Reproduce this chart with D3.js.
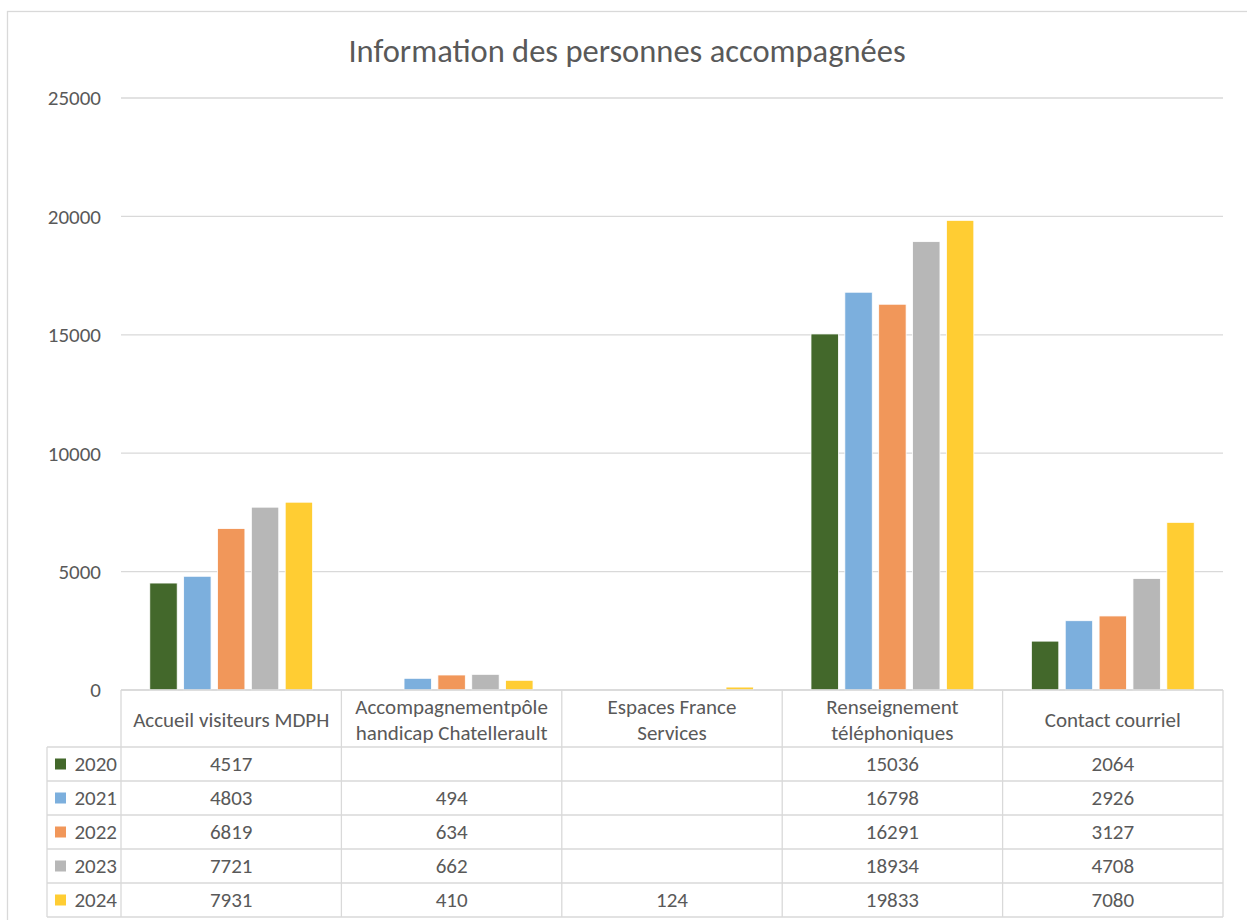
<!DOCTYPE html>
<html>
<head>
<meta charset="utf-8">
<script src="https://cdn.jsdelivr.net/npm/d3@7"></script>
<style>
  body { margin: 0; background: #fff; }
  svg { display: block; font-family: Carlito, "Liberation Sans", sans-serif; }
</style>
</head>
<body>
<div id="chart-container"></div>
<script>
const categories = ["Accueil visiteurs MDPH", "Accompagnementpôle handicap Chatellerault", "Espaces France Services", "Renseignement téléphoniques", "Contact courriel"];
const headerLines = [["Accueil visiteurs MDPH"], ["Accompagnementpôle", "handicap Chatellerault"], ["Espaces France", "Services"], ["Renseignement", "téléphoniques"], ["Contact courriel"]];
const years = ["2020", "2021", "2022", "2023", "2024"];
const values2020 = [4517, null, null, 15036, 2064];
const values2021 = [4803, 494, null, 16798, 2926];
const values2022 = [6819, 634, null, 16291, 3127];
const values2023 = [7721, 662, null, 18934, 4708];
const values2024 = [7931, 410, 124, 19833, 7080];
const yTicks = [0, 5000, 10000, 15000, 20000, 25000];
const colors = ["#43682b", "#7cafdd", "#f1975a", "#b7b7b7", "#ffcd33"];

const series = [values2020, values2021, values2022, values2023, values2024].map((vals, i) => ({
    year: years[i],
    color: colors[i],
    values: vals
}));

const W = 1247, H = 920;
const plot = { left: 121, right: 1223, top: 98, bottom: 690 };
const tableTop = 690, headerH = 57, rowH = 34, legendLeft = 47;
const gridColor = "#d9d9d9", textColor = "#595959";
const fs = "21px";

const svg = d3.select("#chart-container")
    .append("svg")
    .attr("width", W)
    .attr("height", H);

// outer frame
svg.append("rect")
    .attr("x", 7.5).attr("y", 11.5)
    .attr("width", 1260).attr("height", 940)
    .attr("fill", "#fff")
    .attr("stroke", gridColor)
    .attr("stroke-width", 1.3);

svg.append("text")
    .attr("x", 627).attr("y", 62)
    .attr("text-anchor", "middle")
    .attr("fill", textColor)
    .style("font-size", "32.5px")
    .text("Information des personnes accompagnées");

const x0 = d3.scaleBand()
    .domain(categories)
    .range([plot.left, plot.right])
    .padding(0);

const x1 = d3.scaleBand()
    .domain(years)
    .range([0, x0.bandwidth()])
    .paddingInner(0.19)
    .paddingOuter(0.85);

const y = d3.scaleLinear()
    .domain([0, 25000])
    .range([plot.bottom, plot.top]);

// gridlines + y labels
svg.append("g")
    .selectAll("line")
    .data(yTicks)
    .enter().append("line")
    .attr("x1", plot.left).attr("x2", plot.right)
    .attr("y1", d => y(d)).attr("y2", d => y(d))
    .attr("stroke", gridColor)
    .attr("stroke-width", 1.3);

svg.append("g")
    .selectAll("text")
    .data(yTicks)
    .enter().append("text")
    .attr("x", 101)
    .attr("y", d => y(d))
    .attr("dy", "0.35em")
    .attr("text-anchor", "end")
    .attr("fill", textColor)
    .style("font-size", fs)
    .text(d => d);

// bars
const groups = svg.append("g")
    .selectAll("g")
    .data(series)
    .enter().append("g")
    .attr("fill", d => d.color);

groups.selectAll("rect")
    .data(d => d.values.map((v, i) => ({ cat: categories[i], year: d.year, v })).filter(e => e.v != null))
    .enter().append("rect")
    .attr("x", d => x0(d.cat) + x1(d.year))
    .attr("width", x1.bandwidth())
    .attr("y", d => y(d.v))
    .attr("height", d => y(0) - y(d.v))
    .attr("stroke", "#fff")
    .attr("stroke-width", 0.8);

// data table
const table = svg.append("g");
const bodyTop = tableTop + headerH;
const tableBottom = bodyTop + rowH * years.length;
const line = (xa, ya, xb, yb) => table.append("line")
    .attr("x1", xa).attr("y1", ya).attr("x2", xb).attr("y2", yb)
    .attr("stroke", gridColor).attr("stroke-width", 1.3);

line(plot.left, tableTop, plot.right, tableTop);
years.forEach((yr, i) => line(legendLeft, bodyTop + i * rowH, plot.right, bodyTop + i * rowH));
line(legendLeft, tableBottom, plot.right, tableBottom);
line(legendLeft, bodyTop, legendLeft, tableBottom);
categories.forEach(c => line(x0(c), tableTop, x0(c), tableBottom));
line(plot.right, tableTop, plot.right, tableBottom);

// header labels
categories.forEach((c, i) => {
    const lines = headerLines[i];
    const cy = tableTop + headerH / 2 + 1;
    const lh = 26;
    lines.forEach((t, j) => {
        table.append("text")
            .attr("x", x0(c) + x0.bandwidth() / 2)
            .attr("y", cy + (j - (lines.length - 1) / 2) * lh)
            .attr("dy", "0.35em")
            .attr("text-anchor", "middle")
            .attr("fill", textColor)
            .style("font-size", fs)
            .text(t);
    });
});

// rows
series.forEach((s, i) => {
    const cy = bodyTop + i * rowH + rowH / 2;
    table.append("rect")
        .attr("x", 55).attr("y", cy - 5.5)
        .attr("width", 11).attr("height", 11)
        .attr("fill", s.color);
    table.append("text")
        .attr("x", 117).attr("y", cy)
        .attr("dy", "0.35em")
        .attr("text-anchor", "end")
        .attr("fill", textColor)
        .style("font-size", fs)
        .text(s.year);
    s.values.forEach((v, j) => {
        if (v == null) return;
        table.append("text")
            .attr("x", x0(categories[j]) + x0.bandwidth() / 2)
            .attr("y", cy)
            .attr("dy", "0.35em")
            .attr("text-anchor", "middle")
            .attr("fill", textColor)
            .style("font-size", fs)
            .text(v);
    });
});
</script>
</body>
</html>
